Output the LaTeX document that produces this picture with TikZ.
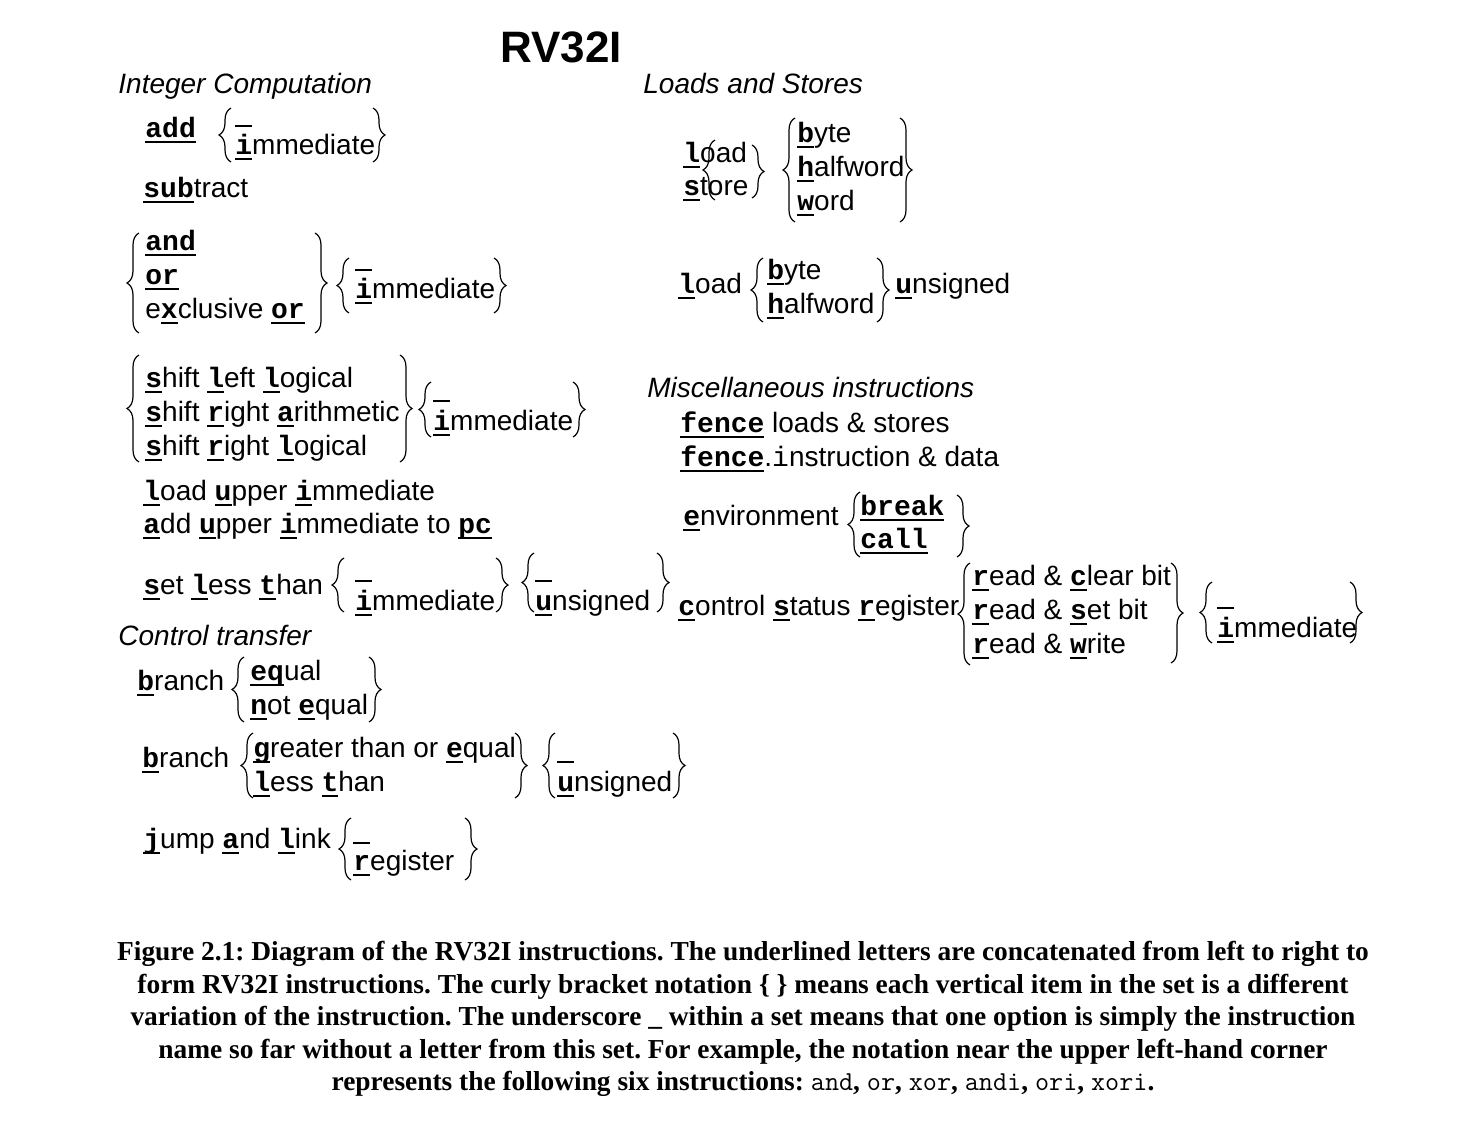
\documentclass[tikz,border=0pt]{standalone}
\usepackage{fontspec}
\setmainfont{Liberation Sans}
\newfontfamily\dgmono{Liberation Mono}
\newfontfamily\capfont{Liberation Serif}
\usetikzlibrary{decorations.pathreplacing}
% underlined key letters, set in bold mono
\newcommand\ulk[1]{\setbox0=\hbox{\dgmono\bfseries #1}\rlap{\rule[-3.2pt]{\wd0}{1.4pt}}\box0\relax}
\newcommand\blank{\ulk{\phantom{i}}}
% braces: base x, top y, bottom y
\newcommand\bral[3]{\draw[brc] (#1,#3) -- (#1,#2);}
\newcommand\brar[3]{\draw[brc] (#1,#2) -- (#1,#3);}
\begin{document}
\frenchspacing
\begin{tikzpicture}[x=0.5pt,y=-0.5pt,
  every node/.style={inner sep=0pt,anchor=base west,font=\fontsize{14}{17}\selectfont},
  hdr/.style={font=\fontsize{14}{17}\selectfont\itshape},
  brc/.style={decorate,decoration={brace,amplitude=6pt},line width=0.6pt},
  captxt/.style={anchor=base,font=\fontsize{13.7}{16}\selectfont\capfont\bfseries}]
  \path[fill=white] (0,0) rectangle (1482,1124);
  \useasboundingbox (0,0) rectangle (1482,1124);

  \node[font=\fontsize{22}{26}\selectfont\bfseries] (title) at (500,62) {RV32I};
  \node[hdr] (hint) at (118,93) {Integer Computation};
  \node[hdr] (hls) at (643,93) {Loads and Stores};
  \node[hdr] (hmisc) at (647,397) {Miscellaneous instructions};
  \node[hdr] (hctl) at (118,645) {Control transfer};

  % integer computation
  \node (add) at (145,137) {\ulk{add}};
  \bral{231}{108}{162}
  \node (addb) at (235,121) {\blank};
  \node (addi) at (235,154) {\ulk{i}mmediate};
  \brar{373}{108}{162}
  \node (sub) at (143,197) {\ulk{sub}tract};

  \bral{139}{233}{333}
  \node (and) at (145,250) {\ulk{and}};
  \node (or) at (145,284) {\ulk{or}};
  \node (xor) at (145,318) {e\ulk{x}clusive \ulk{or}};
  \brar{315}{233}{333}
  \bral{349}{258}{313}
  \node (logb) at (355,265) {\blank};
  \node (logi) at (355,298) {\ulk{i}mmediate};
  \brar{494}{258}{313}

  \bral{139}{355}{462}
  \node (sll) at (145,387) {\ulk{s}hift \ulk{l}eft \ulk{l}ogical};
  \node (sra) at (145,421) {\ulk{s}hift \ulk{r}ight \ulk{a}rithmetic};
  \node (srl) at (145,455) {\ulk{s}hift \ulk{r}ight \ulk{l}ogical};
  \brar{400}{355}{462}
  \bral{431}{382}{437}
  \node (shb) at (433,396) {\blank};
  \node (shi) at (433,430) {\ulk{i}mmediate};
  \brar{573}{382}{437}

  \node (lui) at (143,500) {\ulk{l}oad \ulk{u}pper \ulk{i}mmediate};
  \node (auipc) at (143,533) {\ulk{a}dd \ulk{u}pper \ulk{i}mmediate to \ulk{pc}};

  \node (slt) at (143,594) {\ulk{s}et \ulk{l}ess \ulk{t}han};
  \bral{344}{558}{612}
  \node (sltb) at (355,576) {\blank};
  \node (slti) at (355,610) {\ulk{i}mmediate};
  \brar{496}{558}{612}
  \bral{534}{553}{612}
  \node (sltub) at (535,576) {\blank};
  \node (sltu) at (535,610) {\ulk{u}nsigned};
  \brar{657}{553}{612}

  % control transfer
  \node (br1) at (137,690) {\ulk{b}ranch};
  \bral{244}{657}{722}
  \node (beq) at (250,680) {\ulk{eq}ual};
  \node (bne) at (250,714) {\ulk{n}ot \ulk{e}qual};
  \brar{369}{657}{722}

  \node (br2) at (142,767) {\ulk{b}ranch};
  \bral{253}{733}{798}
  \node (bge) at (253,757) {\ulk{g}reater than or \ulk{e}qual};
  \node (blt) at (253,791) {\ulk{l}ess \ulk{t}han};
  \brar{515}{733}{798}
  \bral{555}{733}{798}
  \node (brb) at (557,757) {\blank};
  \node (bru) at (557,791) {\ulk{u}nsigned};
  \brar{673}{733}{798}

  \node (jal) at (143,848) {\ulk{j}ump \ulk{a}nd \ulk{l}ink};
  \bral{351}{818}{880}
  \node (jalb) at (353,838) {\blank};
  \node (jalr) at (353,870) {\ulk{r}egister};
  \brar{465}{818}{880}

  % loads and stores
  \node (ld) at (683,162) {\ulk{l}oad};
  \node (st) at (683,195) {\ulk{s}tore};
  \bral{715}{140}{200}
  \brar{752}{145}{198}
  \bral{795}{118}{222}
  \node (lsb) at (797,142) {\ulk{b}yte};
  \node (lsh) at (797,176) {\ulk{h}alfword};
  \node (lsw) at (797,210) {\ulk{w}ord};
  \brar{900}{118}{222}

  \node (ldu) at (678,293) {\ulk{l}oad};
  \bral{763}{258}{322}
  \node (lbu) at (767,279) {\ulk{b}yte};
  \node (lhu) at (767,313) {\ulk{h}alfword};
  \brar{877}{258}{322}
  \node (uns) at (895,293) {\ulk{u}nsigned};

  % miscellaneous
  \node (fence) at (680,432) {\ulk{fence} loads \& stores};
  \node (fencei) at (680,466) {\ulk{fence}.{\dgmono i}nstruction \& data};
  \node (env) at (683,525) {\ulk{e}nvironment};
  \bral{860}{492}{557}
  \node (ebrk) at (860,515) {\ulk{break}};
  \node (ecall) at (860,548) {\ulk{call}};
  \brar{957}{495}{557}

  \node (csr) at (678,615) {\ulk{c}ontrol \ulk{s}tatus \ulk{r}egister};
  \bral{970}{563}{665}
  \node (csrc) at (972,585) {\ulk{r}ead \& \ulk{c}lear bit};
  \node (csrs) at (972,619) {\ulk{r}ead \& \ulk{s}et bit};
  \node (csrw) at (972,653) {\ulk{r}ead \& \ulk{w}rite};
  \brar{1171}{563}{663}
  \bral{1212}{582}{643}
  \node (csrb) at (1217,603) {\blank};
  \node (csri) at (1217,637) {\ulk{i}mmediate};
  \brar{1350}{582}{643}

  % caption
  \node[captxt] (cap1) at (743,960) {Figure 2.1: Diagram of the RV32I instructions. The underlined letters are concatenated from left to right to};
  \node[captxt] (cap2) at (743,993) {form RV32I instructions. The curly bracket notation \{ \} means each vertical item in the set is a different};
  \node[captxt] (cap3) at (743,1025) {variation of the instruction. The underscore \_ within a set means that one option is simply the instruction};
  \node[captxt] (cap4) at (743,1058) {name so far without a letter from this set. For example, the notation near the upper left-hand corner};
  \node[captxt] (cap5) at (743,1090) {represents the following six instructions: {\mdseries\ttfamily and}, {\mdseries\ttfamily or}, {\mdseries\ttfamily xor}, {\mdseries\ttfamily andi}, {\mdseries\ttfamily ori}, {\mdseries\ttfamily xori}.};
\end{tikzpicture}
\end{document}
